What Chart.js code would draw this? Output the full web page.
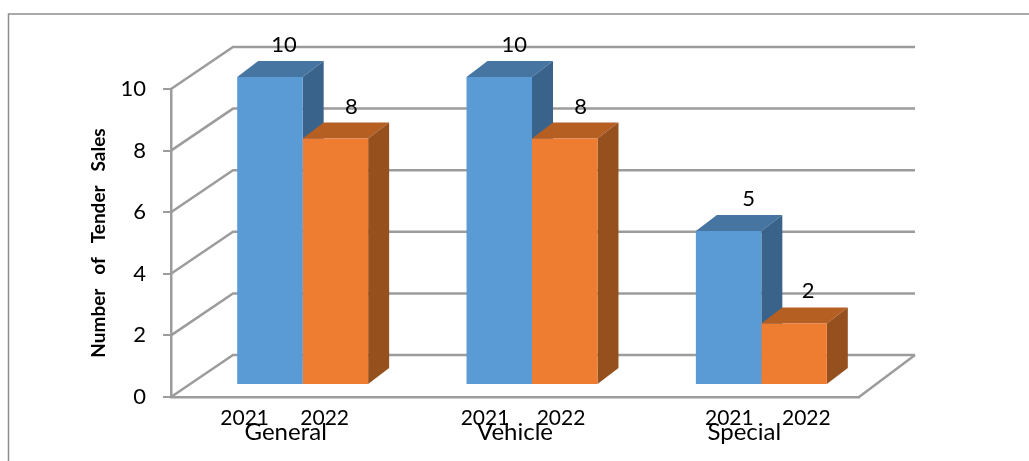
<!DOCTYPE html>
<html>
<head>
<meta charset="utf-8">
<style>
  html, body { margin: 0; padding: 0; background: #fff; }
  canvas { display: block; }
</style>
<script src="https://cdn.jsdelivr.net/npm/chart.js@4"></script>
</head>
<body>
<canvas id="chart" width="1029" height="461"></canvas>
<script>
const categories = ['General', 'Vehicle', 'Special'];
const seriesNames = ['2021', '2022'];
const sales2021 = [10, 10, 5];
const sales2022 = [8, 8, 2];
const yTicks = [0, 2, 4, 6, 8, 10];

// the year labels in the picture are not centred under the bars
const yearOffsets = [[-41, 39], [-30, 46], [-15, 62]];
const valueNudges = [[0, 2], [1, 2], [6, 0]];

const fontName = 'Lato, "Open Sans", sans-serif';
const textColor = '#000';
const gridColor = '#9c9c9c';
const frameColor = '#8e8e8e';
const frontColors = ['#5b9bd5', '#ef7d31'];
const topColors = ['#4675a1', '#b55f23'];
const sideColors = ['#3a638b', '#96501d'];

// depth of the back wall, of the bar inset and of the bars themselves
const wall = { dx: 58, dy: -42 };
const inset = { dx: 17, dy: -12 };
const depth = { dx: 21, dy: -16 };

function poly(ctx, color, pts) {
    ctx.fillStyle = color;
    ctx.beginPath();
    pts.forEach((p, i) => i ? ctx.lineTo(p[0], p[1]) : ctx.moveTo(p[0], p[1]));
    ctx.closePath();
    ctx.fill();
}

const fake3d = {
    id: 'fake3d',
    beforeDraw(chart) {
        // outer frame, open on the right and at the bottom
        const ctx = chart.ctx;
        ctx.save();
        ctx.strokeStyle = frameColor;
        ctx.lineWidth = 1.5;
        ctx.beginPath();
        ctx.moveTo(8.5, 461);
        ctx.lineTo(8.5, 14);
        ctx.lineTo(1029, 14);
        ctx.stroke();
        ctx.restore();
    },
    beforeDatasetsDraw(chart) {
        const ctx = chart.ctx;
        const { left, right } = chart.chartArea;
        const y = chart.scales.y;
        const bottom = y.getPixelForValue(0);

        ctx.save();
        ctx.strokeStyle = gridColor;
        ctx.lineWidth = 2.5;
        yTicks.forEach(v => {
            const py = y.getPixelForValue(v);
            ctx.beginPath();
            ctx.moveTo(left, py);
            ctx.lineTo(left + wall.dx + 4, py + wall.dy);
            ctx.lineTo(right + wall.dx - 2, py + wall.dy);
            ctx.stroke();
        });
        // right edge of the floor
        ctx.beginPath();
        ctx.moveTo(right, bottom);
        ctx.lineTo(right + wall.dx - 2, bottom + wall.dy);
        ctx.stroke();
        ctx.restore();

        // bars are moved back onto the floor, restored in afterDatasetsDraw
        ctx.save();
        ctx.translate(inset.dx, inset.dy);
        [0, 1].forEach(d => {
            chart.getDatasetMeta(d).data.forEach(bar => {
                const l = bar.x - bar.width / 2;
                const r = bar.x + bar.width / 2;
                poly(ctx, topColors[d], [[l, bar.y], [r, bar.y], [r + depth.dx, bar.y + depth.dy], [l + depth.dx, bar.y + depth.dy]]);
                poly(ctx, sideColors[d], [[r, bar.y], [r + depth.dx, bar.y + depth.dy], [r + depth.dx, bar.base + depth.dy], [r, bar.base]]);
            });
        });
    },
    afterDatasetsDraw(chart) {
        const ctx = chart.ctx;
        ctx.restore();

        ctx.save();
        ctx.fillStyle = textColor;
        ctx.textAlign = 'center';
        ctx.textBaseline = 'middle';
        [0, 1].forEach(d => {
            chart.getDatasetMeta(d).data.forEach((bar, i) => {
                const value = chart.data.datasets[d].data[i];
                ctx.font = '22px ' + fontName;
                ctx.fillText(String(value), bar.x + inset.dx + 14 + valueNudges[i][d], bar.y + inset.dy - 32);
                ctx.font = '21px ' + fontName;
                ctx.fillText(seriesNames[d], chart.scales.x.getPixelForValue(i) + yearOffsets[i][d], 418);
            });
        });
        ctx.restore();
    }
};

new Chart(document.getElementById('chart'), {
    type: 'bar',
    plugins: [fake3d],
    data: {
        labels: categories,
        datasets: [
            { label: seriesNames[0], data: sales2021, backgroundColor: frontColors[0] },
            { label: seriesNames[1], data: sales2022, backgroundColor: frontColors[1] }
        ]
    },
    options: {
        responsive: false,
        animation: false,
        events: [],
        layout: { padding: { left: 0, right: 170, top: 89, bottom: 0 } },
        plugins: { legend: { display: false }, tooltip: { enabled: false } },
        datasets: { bar: { categoryPercentage: 0.571, barPercentage: 1, borderWidth: 0 } },
        scales: {
            x: {
                grid: { display: false },
                border: { color: gridColor, width: 2.5 },
                ticks: { color: textColor, font: { family: fontName, size: 24 }, padding: 13, maxRotation: 0 },
                afterFit(scale) { scale.height = 64; }
            },
            y: {
                min: 0,
                max: 10,
                afterBuildTicks(scale) { scale.ticks = yTicks.map(v => ({ value: v })); },
                grid: { drawOnChartArea: false, color: gridColor, lineWidth: 2, tickLength: 8 },
                border: { color: gridColor, width: 2.5 },
                ticks: { color: textColor, font: { family: fontName, size: 22 }, padding: 17 },
                title: {
                    display: true,
                    text: 'Number   of   Tender   Sales',
                    color: textColor,
                    font: { family: fontName, size: 19, weight: 'bold' },
                    padding: { top: 87, bottom: 0 }
                },
                afterFit(scale) { scale.width = 171; }
            }
        }
    }
});
</script>
</body>
</html>
